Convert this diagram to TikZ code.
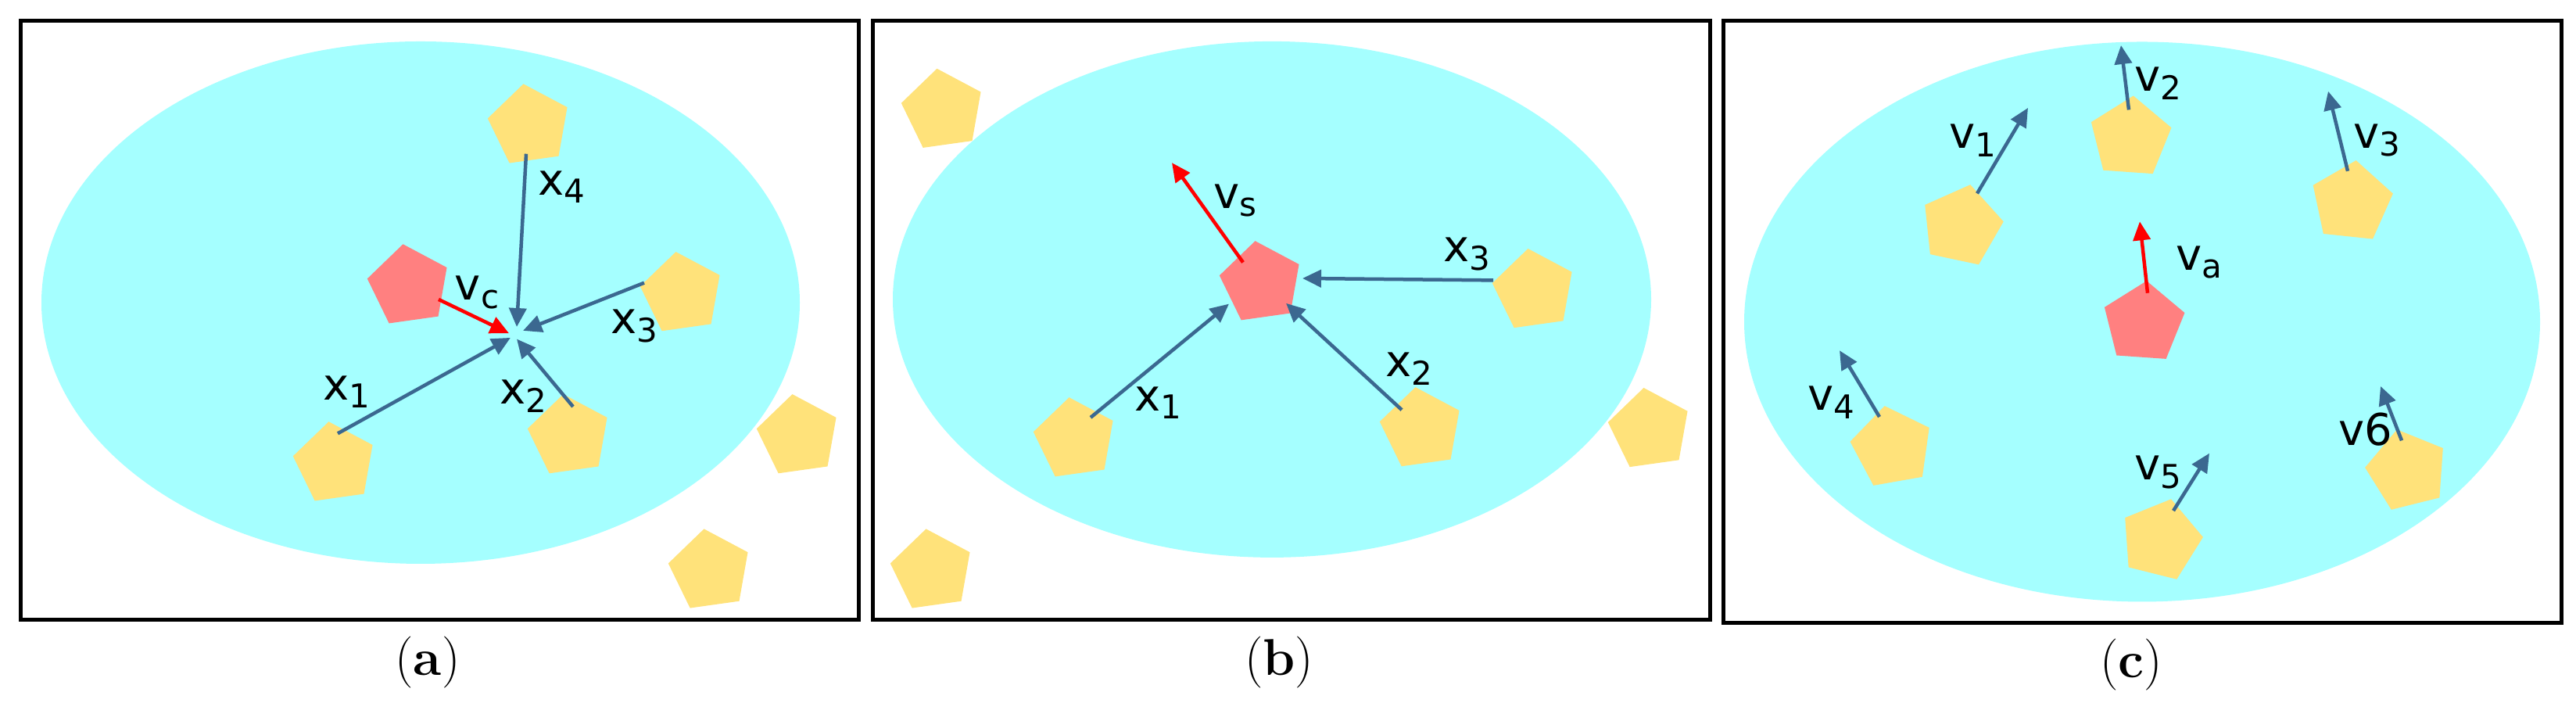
\documentclass[tikz,border=0pt]{standalone}
\usepackage{fontspec}
\newfontfamily\lblfont{DejaVu Sans}
\usetikzlibrary{shapes.geometric,arrows.meta}
\definecolor{cy}{HTML}{A5FFFF}
\definecolor{ye}{HTML}{FFE27A}
\definecolor{pk}{HTML}{FF8080}
\definecolor{ab}{HTML}{3B6890}
\newcommand{\lb}[2]{#1\raisebox{-0.35ex}{\fontsize{42}{42}\selectfont #2}}
\begin{document}
\begin{tikzpicture}[x=1pt,y=-0.8164pt,
 pent/.style={regular polygon,regular polygon sides=5,minimum size=108pt,inner sep=0pt,fill=ye,draw=none},
 redp/.style={pent,fill=pk},
 ar/.style={draw=ab,fill=ab,line width=4.5pt,-{Triangle[length=24pt,width=22pt]}},
 rar/.style={ar,draw=red,fill=red},
 lab/.style={font=\lblfont\fontsize{56}{56}\selectfont,inner sep=0pt},
 capt/.style={font=\fontsize{66}{66}\selectfont},
 frame/.style={draw=black,line width=5pt}]
\useasboundingbox (0,0) rectangle (3295,1100);
% panel a
\draw[frame] (26,32) rectangle (1098,971);
\fill[cy] (538,474) ellipse [x radius=485pt,y radius=334pt];
\node[pent,rotate=8] (a4) at (677,197) {};
\node[pent,rotate=8] (a3) at (872,460) {};
\node[pent,rotate=8] (a1) at (428,726) {};
\node[pent,rotate=8] (a2) at (728,683) {};
\node[pent,rotate=8] (ao1) at (1021,683) {};
\node[pent,rotate=8] (ao2) at (908,894) {};
\node[redp,rotate=8] (ar) at (523,448) {};
\coordinate (a4s) at (673,241); \coordinate (a4e) at (661,512);
\coordinate (a3s) at (824,443); \coordinate (a3e) at (669,518);
\coordinate (a1s) at (432,679); \coordinate (a1e) at (653,529);
\coordinate (a2s) at (733,637); \coordinate (a2e) at (661,531);
\coordinate (ars) at (561,469); \coordinate (are) at (651,522);
\draw[ar] (a4s) -- (a4e);
\draw[ar] (a3s) -- (a3e);
\draw[ar] (a1s) -- (a1e);
\draw[ar] (a2s) -- (a2e);
\draw[rar] (ars) -- (are);
\node[lab] at (718,293) {\lb{x}{4}};
\node[lab] at (610,458) {\lb{v}{c}};
\node[lab] at (811,511) {\lb{x}{3}};
\node[lab] at (443,614) {\lb{x}{1}};
\node[lab] at (669,621) {\lb{x}{2}};
\node[capt] at (547,1037) {(\textbf{a})};
% panel b
\draw[frame] (1116,32) rectangle (2187,971);
\fill[cy] (1627,469) ellipse [x radius=485pt,y radius=330pt];
\node[pent,rotate=8] (b3) at (1962,455) {};
\node[pent,rotate=8] (b1) at (1375,688) {};
\node[pent,rotate=8] (b2) at (1818,672) {};
\node[pent,rotate=8] (bo1) at (1206,173) {};
\node[pent,rotate=8] (bo2) at (2110,673) {};
\node[pent,rotate=8] (bo3) at (1192,894) {};
\node[redp,rotate=8] (br) at (1613,443) {};
\coordinate (b3s) at (1910,439); \coordinate (b3e) at (1666,436);
\coordinate (b1s) at (1395,654); \coordinate (b1e) at (1572,476);
\coordinate (b2s) at (1793,642); \coordinate (b2e) at (1645,475);
\coordinate (brs) at (1590,411); \coordinate (bre) at (1499,255);
\draw[ar] (b3s) -- (b3e);
\draw[ar] (b1s) -- (b1e);
\draw[ar] (b2s) -- (b2e);
\draw[rar] (brs) -- (bre);
\node[lab] at (1580,314) {\lb{v}{s}};
\node[lab] at (1876,398) {\lb{x}{3}};
\node[lab] at (1481,631) {\lb{x}{1}};
\node[lab] at (1802,578) {\lb{x}{2}};
\node[capt] at (1636,1037) {(\textbf{b})};
% panel c
\draw[frame] (2204,32) rectangle (3276,975);
\fill[cy] (2740,504) ellipse [x radius=509pt,y radius=358pt];
\node[pent,rotate=-12] (c1) at (2509,354) {};
\node[pent,rotate=-4] (c2) at (2725,216) {};
\node[pent,rotate=-6] (c3) at (3008,317) {};
\node[pent,rotate=10] (c4) at (2420,701) {};
\node[pent,rotate=-14] (c5) at (2764,846) {};
\node[pent,rotate=14] (c6) at (3079,737) {};
\node[redp,rotate=-4] (cr) at (2742,506) {};
\coordinate (c1s) at (2529,303); \coordinate (c1e) at (2594,169);
\coordinate (c2s) at (2723,172); \coordinate (c2e) at (2713,71);
\coordinate (c3s) at (3003,268); \coordinate (c3e) at (2978,143);
\coordinate (c4s) at (2404,653); \coordinate (c4e) at (2353,549);
\coordinate (c5s) at (2780,800); \coordinate (c5e) at (2826,710);
\coordinate (c6s) at (3072,690); \coordinate (c6e) at (3045,605);
\coordinate (crs) at (2747,459); \coordinate (cre) at (2737,347);
\draw[ar] (c1s) -- (c1e);
\draw[ar] (c2s) -- (c2e);
\draw[ar] (c3s) -- (c3e);
\draw[ar] (c4s) -- (c4e);
\draw[ar] (c5s) -- (c5e);
\draw[ar] (c6s) -- (c6e);
\draw[rar] (crs) -- (cre);
\node[lab] at (2523,220) {\lb{v}{1}};
\node[lab] at (2760,131) {\lb{v}{2}};
\node[lab] at (3040,220) {\lb{v}{3}};
\node[lab] at (2813,411) {\lb{v}{a}};
\node[lab] at (2342,630) {\lb{v}{4}};
\node[lab] at (2760,740) {\lb{v}{5}};
\node[lab] at (3026,673) {v6};
\node[capt] at (2726,1041) {(\textbf{c})};
\end{tikzpicture}
\end{document}
